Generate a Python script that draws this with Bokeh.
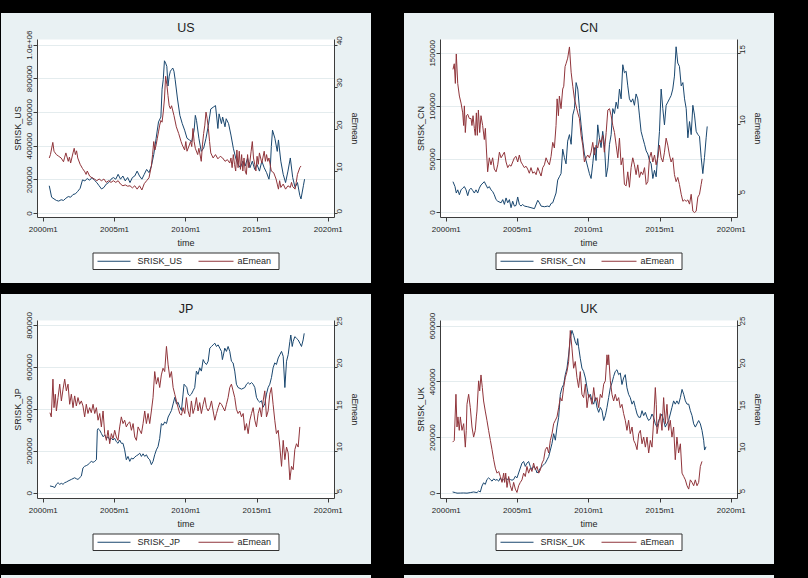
import math
from bokeh.plotting import figure
from bokeh.models import Range1d, LinearAxis, FixedTicker, Div, Spacer
from bokeh.layouts import row, column
from bokeh.core.properties import value
from bokeh.embed import file_html
from bokeh.resources import INLINE

# ---------------- data (month offset from 2000m1, value) ----------------
X_TICKS = [0, 60, 120, 180, 240]
X_TICK_LABELS = ["2000m1", "2005m1", "2010m1", "2015m1", "2020m1"]
X_TITLE = "time"
RIGHT_TITLE = "aEmean"

US_SRISK = [(5,165000),(7,97000),(9,87000),(11,78000),(13,74000),(15,82000),(17,78000),(19,91000),(21,101000),(23,97000),
            (25,113000),(27,117000),(29,132000),(31,150000),(33,200000),(35,194000),(37,208000),(39,198000),(41,214000),(43,198000),
            (45,184000),(47,165000),(49,146000),(51,155000),(53,175000),(55,184000),(57,204000),(59,214000),(61,204000),(63,233000),
            (65,204000),(67,223000),(69,194000),(71,214000),(73,184000),(75,214000),(77,223000),(79,252000),(81,223000),(83,204000),
            (85,233000),(87,262000),(89,243000),(91,282000),(93,350000),(95,447000),(97,544000),(99,573000),(100,738000),(101,796000),
            (102,907000),(103,893000),(104,874000),(105,757000),(106,816000),(107,845000),(108,855000),(109,864000),(110,845000),(111,796000),
            (113,680000),(115,583000),(117,534000),(119,495000),(121,447000),(123,437000),(125,427000),(127,495000),(128,583000),(129,553000),
            (131,447000),(133,369000),(135,388000),(137,447000),(139,524000),(141,621000),(143,631000),(145,641000),(147,505000),(148,592000),
            (150,534000),(151,573000),(153,515000),(154,563000),(156,534000),(158,466000),(160,388000),(162,330000),(164,291000),(166,272000),
            (168,311000),(170,282000),(172,330000),(174,272000),(176,311000),(178,262000),(180,291000),(182,252000),(184,311000),(186,272000),
            (188,243000),(190,204000),(191,252000),(192,398000),(193,495000),(195,447000),(197,369000),(198,437000),(200,311000),(202,233000),
            (204,184000),(206,252000),(208,330000),(210,214000),(212,155000),(214,184000),(216,107000),(217,87000),(219,165000),(220,204000)]

US_AE = [(5,13.2),(6,14.0),(8,16.9),(9,14.8),(11,14.0),(13,13.6),(15,13.2),(17,12.3),(18,13.4),(19,14.4),(21,12.4),(22,13.4),
         (23,12.0),(25,14.4),(26,15.5),(27,14.0),(28,14.9),(29,13.2),(31,11.7),(33,10.7),(35,9.9),(36,9.3),(37,10.1),(39,8.9),
         (41,8.5),(43,8.2),(45,7.8),(47,8.2),(49,7.8),(51,8.2),(53,7.4),(55,7.8),(57,7.4),(59,7.8),(61,7.4),(63,7.8),(65,7.0),
         (67,6.6),(69,6.8),(71,6.5),(73,6.6),(75,6.1),(77,6.6),(79,5.8),(81,6.6),(83,5.6),(85,7.1),(87,7.8),(89,8.5),(91,11.3),
         (92,14.0),(93,17.1),(94,15.1),(95,16.3),(96,17.9),(97,19.4),(98,21.0),(99,22.1),(100,21.7),(101,24.1),(102,27.2),(103,32.6),
         (104,30.7),(105,28.0),(106,25.6),(107,24.9),(108,25.6),(110,23.3),(112,20.6),(114,19.0),(116,17.1),(117,16.3),(119,15.1),
         (120,17.1),(121,14.8),(123,16.3),(124,17.1),(125,15.9),(126,20.2),(127,17.1),(128,15.5),(130,14.0),(131,15.5),(133,12.4),
         (134,16.3),(135,19.0),(136,21.0),(137,24.1),(138,22.5),(139,20.2),(140,17.1),(141,14.4),(143,13.2),(145,14.0),(147,13.0),
         (149,13.6),(151,13.2),(153,12.4),(155,12.8),(157,12.0),(158,13.2),(159,10.9),(160,14.0),(161,11.7),(162,10.1),(163,15.1),
         (164,10.9),(165,14.8),(166,10.5),(167,14.0),(168,10.1),(169,13.2),(170,10.1),(171,9.3),(172,14.0),(173,10.9),(174,12.4),
         (175,14.8),(176,17.1),(177,13.2),(178,11.7),(179,10.1),(180,13.6),(181,11.7),(182,14.4),(184,12.0),(186,14.8),(187,12.4),
         (188,14.0),(189,12.4),(190,13.2),(192,10.1),(194,9.7),(196,8.2),(197,7.0),(198,5.8),(199,7.8),(200,6.2),(202,7.0),(204,5.8),
         (206,6.6),(208,6.2),(209,7.4),(210,6.4),(212,5.8),(213,7.4),(214,9.3),(216,10.9),(217,11.3)]

CN_SRISK = [(5.6,29100),(7.3,24500),(8.4,18400),(9.6,21400),(11.0,16800),(12.4,21400),(13.8,23000),(15.2,24500),(16.6,21400),
            (18.0,15900),(19.4,21400),(20.8,23000),(22.2,20800),(23.6,18400),(25.0,21400),(26.4,18400),(27.8,23000),(29.2,26000),
            (32.0,29100),(33.4,26000),(34.8,23000),(36.2,24500),(37.6,21400),(39.0,19900),(40.4,16800),(41.9,12200),(43.3,10700),
            (46.1,9200),(47.5,12200),(48.9,7700),(50.3,13800),(51.7,9200),(53.1,12200),(54.5,4600),(55.9,10700),(57.3,6100),
            (58.7,6700),(60.1,14700),(61.5,7700),(62.9,6100),(64.3,7700),(65.7,6100),(68.5,5500),(71.3,4600),(74.2,3700),
            (77.0,11600),(78.4,9200),(79.8,6100),(82.6,5500),(85.4,6100),(86.8,5500),(88.2,8600),(89.6,9200),(91.0,13800),
            (92.4,18400),(93.8,30600),(95.2,33700),(96.6,36700),(98.0,59700),(99.4,52000),(100.8,45900),(102.2,67300),(103.7,73400),
            (105.1,64300),(106.5,91800),(107.9,97900),(109.3,122400),(110.7,116300),(112.1,97900),(113.5,82600),(114.9,67300),
            (116.3,55100),(117.7,49000),(119.1,42800),(120.5,36700),(121.9,32100),(123.3,45900),(124.7,61200),(126.1,49000),
            (127.5,82600),(128.9,70400),(130.3,61200),(131.7,76500),(133.1,64300),(134.6,33700),(136.0,42800),(137.4,64300),
            (138.8,73400),(140.2,97900),(141.6,93300),(143.0,104000),(144.4,97900),(145.8,116300),(147.2,107100),(148.6,139200),
            (150.0,131600),(151.4,133100),(152.8,119300),(154.2,107100),(155.6,104000),(157.0,107100),(158.4,101000),(159.8,111700),
            (161.2,107100),(162.6,91800),(164.0,76500),(165.4,70400),(166.9,64300),(168.3,58100),(169.7,55100),(171.1,49000),
            (172.5,45900),(173.9,32100),(175.3,39800),(176.7,33700),(178.1,55100),(179.5,76500),(180.9,116300),(182.3,97900),
            (183.7,82600),(185.1,101000),(186.5,104000),(187.9,107100),(189.3,110200),(190.7,116300),(192.1,128500),(193.5,156100),
            (194.9,140800),(196.3,137700),(197.8,119300),(199.2,122400),(200.6,107100),(202.0,97900),(203.4,70400),(204.8,85700),
            (206.2,73400),(207.6,101000),(209.0,91800),(210.4,76500),(211.8,73400),(213.2,71900),(214.6,52000),(216.0,36700),
            (217.4,52000),(218.8,70400),(219.7,81100)]

CN_AE = [(5.6,13.9),(6.7,14.3),(7.6,12.9),(8.4,15.0),(9.6,12.9),(11.0,12.0),(12.4,11.5),(13.8,10.8),(14.6,9.9),(15.2,11.3),
         (16.0,9.4),(16.9,10.6),(18.0,10.7),(19.4,10.4),(20.8,10.4),(21.6,9.9),(22.5,10.6),(23.6,9.7),(24.4,9.2),(25.3,10.8),
         (26.1,9.2),(27.0,11.0),(28.1,9.4),(29.2,10.6),(30.6,9.9),(32.0,8.9),(32.9,9.7),(33.7,8.3),(34.8,6.6),(36.2,7.6),
         (37.6,7.1),(39.0,7.6),(40.4,6.8),(41.9,6.6),(43.3,7.1),(44.7,8.0),(46.1,7.6),(47.5,7.8),(48.9,8.0),(50.3,7.3),
         (51.7,6.9),(53.1,7.1),(54.5,7.0),(55.9,7.3),(57.3,7.6),(58.7,7.7),(60.1,7.3),(61.5,7.8),(62.9,7.3),(64.3,7.1),
         (65.7,6.9),(67.1,7.0),(68.5,6.8),(69.9,6.5),(71.3,6.9),(72.8,6.5),(74.2,6.6),(75.6,6.4),(77.0,6.9),(78.4,6.6),
         (79.8,6.3),(81.2,6.9),(82.6,7.1),(84.0,7.6),(85.4,7.3),(86.8,7.1),(88.2,7.7),(89.6,8.7),(91.0,8.3),(92.4,9.9),
         (93.3,11.8),(94.4,10.6),(95.2,12.0),(96.6,11.1),(98.0,12.5),(98.9,12.7),(100.0,14.1),(100.8,14.3),(102.2,14.7),
         (103.7,15.5),(105.1,13.7),(106.5,12.7),(107.9,11.8),(109.3,11.3),(110.7,10.8),(112.1,10.4),(113.5,9.2),(114.9,8.5),
         (116.3,7.3),(117.7,7.6),(119.1,7.8),(120.5,7.6),(121.9,8.0),(123.3,8.7),(124.7,7.8),(126.1,8.5),(127.5,8.3),
         (128.9,8.9),(130.3,8.7),(131.7,9.2),(133.1,8.0),(134.6,9.4),(136.0,11.0),(137.4,11.1),(138.8,10.6),(140.2,9.9),
         (141.6,9.4),(143.0,8.5),(144.4,7.6),(145.8,9.0),(147.2,7.1),(148.6,7.6),(150.0,5.7),(151.4,5.6),(152.8,6.6),
         (154.2,5.5),(155.6,6.9),(157.0,7.6),(158.4,7.1),(159.8,6.4),(161.2,7.1),(162.6,6.2),(164.0,6.6),(165.4,6.4),
         (166.9,6.9),(168.3,5.7),(169.7,5.9),(171.1,7.6),(172.5,8.0),(173.9,7.3),(175.3,7.8),(176.7,7.1),(178.1,7.6),
         (179.5,8.5),(180.9,7.6),(182.3,7.3),(183.7,8.0),(185.1,9.0),(186.5,8.5),(187.9,7.8),(189.3,7.3),(190.7,7.6),
         (192.1,6.4),(193.5,5.9),(194.9,6.2),(196.3,5.7),(197.8,5.0),(199.2,4.5),(200.6,4.6),(202.0,4.5),(203.4,4.6),
         (204.8,4.3),(206.2,5.0),(207.6,3.8),(209.0,3.7),(210.4,3.8),(211.8,4.8),(213.2,5.0),(214.6,5.7),(215.4,6.1)]

JP_SRISK = [(5.6,34400),(8.1,31300),(9.6,26600),(11.0,42300),(12.4,50100),(13.8,42300),(15.2,47000),(16.6,42300),(18.0,50100),
            (19.4,53200),(20.8,57900),(23.6,65700),(26.4,73600),(27.8,68900),(29.2,65700),(32.0,81400),(33.4,120500),(34.8,128300),
            (36.2,131500),(37.6,136200),(39.0,144000),(40.4,151800),(41.9,147100),(43.3,151800),(44.7,159600),(45.5,300500),
            (46.1,308300),(47.5,300500),(48.9,284800),(50.3,269200),(51.7,277000),(53.1,261400),(54.5,269200),(55.9,253500),
            (57.3,261400),(58.7,253500),(60.1,261400),(61.5,245700),(62.9,237900),(64.3,253500),(65.7,237900),(67.1,237900),
            (68.5,206600),(69.9,159600),(71.3,175300),(72.8,151800),(74.2,167500),(75.6,162800),(77.0,172200),(78.4,178400),
            (79.8,183100),(81.2,190900),(82.6,175300),(84.0,187800),(85.4,175300),(86.8,183100),(88.2,167500),(89.6,159600),
            (91.0,136200),(92.4,151800),(93.8,183100),(95.2,206600),(96.6,222200),(98.0,261400),(99.4,331800),(100.8,324000),
            (102.2,339600),(103.7,331800),(105.1,363100),(106.5,378700),(107.9,394400),(109.3,425700),(110.7,457000),(112.1,425700),
            (113.5,433500),(114.9,410000),(116.3,394400),(117.7,472600),(118.5,519600),(119.7,511800),(120.8,503900),(121.9,472600),
            (123.3,464800),(124.7,472600),(126.1,488300),(127.5,503900),(128.9,582200),(130.3,566500),(131.7,597800),(133.1,582200),
            (134.6,637000),(136.0,621300),(137.4,613500),(138.8,629100),(140.2,691700),(141.6,699600),(143.0,707400),(144.4,715200),
            (145.8,699600),(147.2,707400),(148.6,691700),(150.0,676100),(150.8,637000),(152.0,668300),(152.8,691700),(154.2,676100),
            (155.6,699600),(157.0,676100),(158.4,629100),(159.8,621300),(161.2,582200),(162.6,519600),(164.0,503900),(166.9,496100),
            (169.7,503900),(171.1,519600),(172.5,527400),(173.9,519600),(175.3,527400),(176.7,519600),(178.1,503900),(179.5,457000),
            (180.9,441300),(182.3,433500),(183.7,441300),(185.1,410000),(186.5,425700),(187.9,472600),(189.3,503900),(190.7,519600),
            (192.1,550900),(193.5,597800),(194.9,621300),(196.3,613500),(197.8,644800),(199.2,660400),(200.6,676100),(202.0,652600),
            (203.4,503900),(204.8,629100),(206.2,660400),(207.6,723000),(208.4,754300),(209.6,699600),(210.4,723000),(211.8,746500),
            (213.2,738700),(214.6,730900),(216.0,715200),(217.4,699600),(218.8,730900),(219.7,762200)]

JP_AE = [(5.6,14.6),(6.7,14.1),(8.1,18.6),(9.0,15.2),(10.1,16.8),(11.0,14.8),(12.4,16.4),(13.8,18.0),(15.2,16.0),(16.6,17.4),
         (18.0,18.6),(19.4,17.2),(20.8,18.0),(22.2,15.6),(23.6,16.8),(25.0,15.2),(26.4,16.6),(27.8,15.4),(29.2,16.4),(30.6,15.6),
         (32.0,16.0),(33.4,15.4),(34.8,14.1),(36.2,15.6),(37.6,14.5),(39.0,15.2),(40.4,14.6),(41.9,15.6),(43.3,14.5),(44.7,15.2),
         (46.1,13.7),(47.5,14.5),(48.9,12.9),(50.3,14.8),(51.7,12.1),(53.1,11.3),(54.5,12.5),(55.9,10.9),(57.3,12.1),(58.7,11.5),
         (60.1,12.5),(61.5,11.7),(62.9,11.3),(64.3,12.9),(65.7,14.1),(67.1,13.3),(68.5,13.7),(69.9,12.9),(71.3,13.3),(72.8,13.5),
         (74.2,12.5),(75.6,13.3),(77.0,11.7),(78.4,11.3),(79.8,12.9),(81.2,12.5),(82.6,12.1),(84.0,13.3),(85.4,14.8),(86.8,13.3),
         (88.2,14.5),(89.6,13.3),(91.0,14.8),(92.4,16.4),(93.8,19.5),(95.2,18.0),(96.6,18.8),(98.0,17.6),(99.4,19.1),(100.8,19.9),
         (102.2,19.5),(103.7,22.5),(105.1,20.3),(106.5,18.8),(107.9,19.5),(109.3,17.6),(110.7,16.8),(112.1,16.0),(113.5,15.2),
         (114.9,14.5),(116.3,14.3),(117.7,15.2),(119.1,14.5),(120.5,16.4),(121.9,14.8),(123.3,14.1),(124.7,16.0),(126.1,14.5),
         (127.5,15.2),(128.9,16.4),(130.3,14.8),(131.7,15.8),(133.1,14.5),(134.6,15.6),(136.0,16.4),(137.4,15.2),(138.8,14.8),
         (140.2,15.2),(141.6,16.0),(143.0,14.8),(144.4,13.7),(145.8,14.5),(147.2,15.2),(148.6,15.8),(150.0,15.6),(151.4,15.2),
         (152.8,14.8),(154.2,15.6),(155.6,16.4),(157.0,17.6),(158.4,18.0),(159.8,17.2),(161.2,16.4),(162.6,15.0),(164.0,14.5),
         (165.4,14.8),(166.9,14.1),(168.3,14.5),(169.7,12.5),(171.1,13.3),(172.5,12.1),(173.9,13.7),(175.3,14.5),(176.7,15.2),
         (178.1,13.7),(179.5,12.9),(180.9,14.5),(182.3,15.2),(183.7,14.1),(185.1,16.0),(186.5,17.2),(187.9,14.1),(189.3,14.8),
         (190.7,16.8),(192.1,17.6),(193.5,15.6),(194.9,13.7),(196.3,12.1),(197.8,12.5),(199.2,10.5),(200.6,8.2),(202.0,11.3),
         (203.4,9.0),(204.8,10.5),(206.2,9.8),(207.6,6.6),(209.0,8.2),(210.4,7.8),(211.8,10.2),(213.2,10.9),(214.6,10.5),(216.0,12.9)]

UK_SRISK = [(5.3,4700),(7.6,2400),(9.0,500),(11.8,800),(14.6,1200),(17.4,500),(20.2,2400),(23.0,4700),(25.8,2400),(27.2,8200),
            (28.6,4700),(30.0,25900),(31.4,37600),(32.8,31800),(34.2,49400),(35.6,55300),(37.1,49400),(38.5,43500),(39.9,51700),
            (41.3,47000),(42.7,49400),(44.1,43500),(45.5,55300),(46.9,43500),(48.3,49400),(49.7,55300),(51.1,49400),(52.5,51700),
            (53.9,49400),(55.3,47000),(56.7,49400),(58.1,61200),(59.5,55300),(60.9,72900),(62.3,90600),(63.7,108200),(65.1,114100),
            (66.5,96400),(67.9,108200),(69.3,114100),(70.7,96400),(72.1,84700),(73.5,96400),(74.9,90600),(76.4,72900),(77.8,78800),
            (79.2,90600),(80.6,96400),(82.0,102300),(83.4,108200),(84.8,120000),(86.2,131700),(87.6,155200),(89.0,178800),(90.4,214000),
            (91.8,190500),(93.2,237600),(94.6,272800),(96.0,355200),(97.4,378700),(98.8,390400),(100.2,425700),(101.6,449200),
            (103.0,496300),(104.4,555100),(105.8,584500),(107.2,566800),(108.6,543300),(110.0,531600),(110.6,555100),(111.4,525700),
            (112.8,484500),(114.2,449200),(115.6,437500),(117.1,414000),(118.5,378700),(119.9,343400),(121.3,355200),(122.7,331600),
            (124.1,319900),(125.5,343400),(126.9,308100),(128.3,290500),(129.7,308100),(131.1,296400),(132.5,261100),(133.9,278700),
            (135.3,308100),(136.7,343400),(138.1,378700),(139.5,396300),(140.9,419800),(142.3,437500),(143.7,443400),(145.1,425700),
            (146.5,431600),(147.9,390400),(149.3,414000),(150.7,425700),(152.1,378700),(153.5,355200),(154.9,343400),(156.4,319900),
            (157.8,331600),(159.2,308100),(160.6,284600),(162.0,272800),(163.4,272800),(164.8,296400),(166.2,278700),(167.6,290500),
            (169.0,272800),(170.4,261100),(171.8,267000),(173.2,284600),(174.6,272800),(176.0,249300),(177.4,237600),(178.8,261100),
            (180.2,272800),(181.6,284600),(183.0,261100),(184.4,237600),(185.8,249300),(187.2,261100),(188.6,284600),(190.0,308100),
            (191.4,331600),(192.8,319900),(194.2,331600),(195.6,319900),(197.1,343400),(198.5,372800),(199.9,355200),(201.3,331600),
            (202.7,319900),(204.1,319900),(205.5,296400),(206.9,278700),(208.3,249300),(209.7,237600),(211.1,249300),(212.5,261100),
            (213.9,249300),(215.3,225800),(216.7,190500),(217.5,155200),(218.7,167000)]

UK_AE = [(5.3,11.1),(6.7,11.3),(8.1,16.8),(9.0,12.9),(9.8,14.1),(10.9,12.5),(11.8,14.1),(13.2,12.5),(14.6,13.3),(16.0,10.5),
         (16.8,12.5),(17.4,15.6),(18.8,16.8),(20.2,15.2),(21.6,12.9),(23.0,11.7),(24.4,12.5),(25.3,14.1),(25.8,14.8),(27.2,18.4),
         (28.1,17.2),(29.2,19.1),(30.3,17.6),(31.4,16.0),(32.8,14.8),(34.2,13.7),(35.6,12.5),(37.1,11.3),(38.5,10.2),(39.9,9.0),
         (41.3,8.0),(42.7,7.4),(44.1,7.6),(45.5,7.0),(46.9,6.3),(48.3,7.4),(49.1,6.3),(50.0,7.4),(51.1,5.7),(52.5,7.0),(53.9,5.9),
         (55.3,5.3),(56.7,6.3),(58.1,5.5),(59.5,5.1),(60.9,5.9),(62.3,6.3),(63.7,6.6),(65.1,7.4),(66.5,7.0),(67.9,8.2),(69.3,7.4),
         (70.7,8.0),(72.1,7.6),(73.5,8.6),(74.9,7.8),(76.4,8.2),(77.8,7.4),(79.2,7.8),(80.6,8.6),(82.0,9.0),(83.4,10.2),(84.8,10.5),
         (86.2,9.8),(87.6,11.3),(89.0,12.1),(90.4,13.3),(91.8,13.7),(93.2,14.1),(94.6,15.2),(96.0,16.4),(97.4,16.0),(98.8,17.6),
         (100.2,18.8),(101.6,19.5),(103.0,20.7),(104.4,24.4),(105.8,22.3),(107.2,19.9),(108.6,20.7),(110.0,18.8),(111.4,17.6),
         (112.8,19.5),(114.2,16.8),(115.6,16.4),(117.1,18.0),(118.5,15.2),(119.9,16.8),(121.3,16.4),(122.7,15.6),(124.1,17.6),
         (125.5,16.0),(126.9,16.4),(128.3,15.2),(129.7,16.8),(131.1,16.4),(132.5,18.0),(133.9,18.4),(135.3,21.5),(136.1,20.3),
         (136.7,21.5),(138.1,18.4),(139.5,16.8),(140.9,16.0),(142.3,16.8),(143.7,16.0),(145.1,16.4),(146.5,15.2),(147.9,15.6),
         (149.3,14.5),(150.7,13.7),(152.1,12.5),(153.5,13.7),(154.9,12.1),(156.4,12.9),(157.8,11.3),(159.2,10.9),(160.6,10.2),
         (162.0,12.1),(163.4,12.5),(164.8,10.9),(166.2,11.7),(167.6,10.5),(169.0,11.7),(170.4,9.8),(171.8,11.3),(173.2,10.5),
         (174.6,13.7),(176.0,17.6),(176.8,15.6),(177.4,12.1),(178.8,13.3),(180.2,14.5),(181.6,12.5),(183.0,16.4),(184.4,13.3),
         (185.8,15.6),(187.2,12.5),(188.6,13.7),(190.0,11.7),(191.4,12.9),(192.8,9.0),(194.2,11.7),(195.6,9.8),(197.1,10.9),
         (198.5,7.4),(199.9,7.0),(201.3,6.6),(202.7,5.9),(204.1,5.5),(205.5,6.6),(206.9,6.3),(208.3,5.9),(209.7,6.6),(211.1,5.9),
         (212.5,6.3),(213.9,8.2),(215.3,8.8)]

US_LEFT_TICKS = [0, 200000, 400000, 600000, 800000, 1000000]
US_LEFT_LABELS = ["0", "200000", "400000", "600000", "800000", "1.0e+06"]
US_RIGHT_TICKS = [0, 10, 20, 30, 40]
CN_LEFT_TICKS = [0, 50000, 100000, 150000]
CN_LEFT_LABELS = ["0", "50000", "100000", "150000"]
CN_RIGHT_TICKS = [5, 10, 15]
JP_LEFT_TICKS = [0, 200000, 400000, 600000, 800000]
JP_LEFT_LABELS = ["0", "200000", "400000", "600000", "800000"]
JP_RIGHT_TICKS = [5, 10, 15, 20, 25]
UK_LEFT_TICKS = [0, 200000, 400000, 600000]
UK_LEFT_LABELS = ["0", "200000", "400000", "600000"]
UK_RIGHT_TICKS = [5, 10, 15, 20, 25]

# ---------------- style / layout constants ----------------
FONT = "Liberation Sans"
PANEL_BG = "#e9f1f3"
GRID = "#e4ecee"
AXC = "#3c3c3c"
TXT = "#1e1e1e"
BLUE = "#1a476f"
RED = "#90353b"
LINE_W = 1.0
X_RANGE = (-4.9, 245.2)
PANEL_W = 370
MAIN_H = 237
LEG_H = 33
BORDER_L, BORDER_R = 36, 37
# legend strip drawn in panel-pixel coordinates (x from panel left, y from strip top)
LEG_BOX = (91.5, 277.5, 2.5, 19.0)      # left, right, top, bottom
LEG_KEY1 = (96, 129)
LEG_KEY2 = (197, 232)
LEG_TXT_X = (136, 236)


def style_axis(ax, tick_out, label_standoff, title_standoff, tick_size="8px", title_size="9px"):
    ax.axis_line_color = AXC
    ax.axis_line_width = 1
    ax.major_tick_line_color = AXC
    ax.major_tick_in = 0
    ax.major_tick_out = tick_out
    ax.minor_tick_line_color = None
    ax.major_label_text_font = FONT
    ax.major_label_text_font_size = tick_size
    ax.major_label_text_color = TXT
    ax.major_label_standoff = label_standoff
    ax.axis_label_text_font = FONT
    ax.axis_label_text_font_size = title_size
    ax.axis_label_text_font_style = "normal"
    ax.axis_label_text_color = TXT
    ax.axis_label_standoff = title_standoff


def make_panel(name, srisk, ae, lticks, llabels, lrange, rticks, rrange):
    p = figure(width=PANEL_W, height=MAIN_H, output_backend="svg", toolbar_location=None,
               x_range=Range1d(*X_RANGE), y_range=Range1d(*lrange),
               min_border_left=BORDER_L, min_border_right=BORDER_R, min_border_top=26, min_border_bottom=30,
               background_fill_color="white", border_fill_color=PANEL_BG,
               outline_line_color=None, title=name)
    p.title.align = "center"
    p.title.text_font = FONT
    p.title.text_font_size = "12.5px"
    p.title.text_font_style = "normal"
    p.title.text_color = TXT

    xa = p.xaxis[0]
    xa.ticker = FixedTicker(ticks=X_TICKS)
    xa.major_label_overrides = dict(zip(X_TICKS, X_TICK_LABELS))
    xa.axis_label = X_TITLE
    style_axis(xa, 4, 3, 1)

    ya = p.yaxis[0]
    ya.ticker = FixedTicker(ticks=lticks)
    ya.major_label_overrides = dict(zip(lticks, llabels))
    ya.major_label_orientation = "vertical"
    ya.axis_label = "SRISK_" + name
    style_axis(ya, 4, 1, 2)

    p.xgrid.visible = False
    p.ygrid.ticker = FixedTicker(ticks=lticks)
    p.ygrid.grid_line_color = GRID
    p.ygrid.grid_line_width = 1

    p.extra_y_ranges = {"ae": Range1d(*rrange)}
    ra = LinearAxis(y_range_name="ae", ticker=FixedTicker(ticks=rticks), axis_label=RIGHT_TITLE)
    style_axis(ra, 3, 2, 2, tick_size="8px", title_size="8.5px")
    ra.major_label_orientation = math.pi / 2
    p.add_layout(ra, "right")

    st, sv = zip(*srisk)
    at, av = zip(*ae)
    p.line(list(st), list(sv), line_color=BLUE, line_width=LINE_W)
    p.line(list(at), list(av), line_color=RED, line_width=LINE_W, y_range_name="ae")

    # legend strip (separate small canvas under the plot; its frame is aligned with the plot frame)
    lf = figure(width=PANEL_W, height=LEG_H, output_backend="svg", toolbar_location=None,
                x_range=Range1d(BORDER_L, PANEL_W - BORDER_R), y_range=Range1d(LEG_H, 0),
                x_axis_location=None, y_axis_location=None,
                min_border_left=BORDER_L, min_border_right=BORDER_R, min_border_top=0, min_border_bottom=0,
                background_fill_alpha=0, border_fill_alpha=0, outline_line_color=None)
    lf.grid.visible = False
    l, r, t, b = LEG_BOX
    lf.quad(left=[l], right=[r], top=[t], bottom=[b], fill_color="white", line_color="#333333", line_width=1)
    ym = (t + b) / 2
    lf.line(list(LEG_KEY1), [ym, ym], line_color=BLUE, line_width=LINE_W)
    lf.line(list(LEG_KEY2), [ym, ym], line_color=RED, line_width=LINE_W)
    lf.text(x=list(LEG_TXT_X), y=[ym, ym], text=["SRISK_" + name, "aEmean"],
            text_font=value(FONT), text_font_size=value("9px"), text_color=TXT,
            text_align="left", text_baseline="middle")
    return column(p, lf, spacing=0, styles={"background-color": PANEL_BG})


c_us = make_panel("US", US_SRISK, US_AE, US_LEFT_TICKS, US_LEFT_LABELS, (-23350, 1033300), US_RIGHT_TICKS, (-0.934, 41.33))
c_cn = make_panel("CN", CN_SRISK, CN_AE, CN_LEFT_TICKS, CN_LEFT_LABELS, (-4630, 162960), CN_RIGHT_TICKS, (3.346, 16.03))
c_jp = make_panel("JP", JP_SRISK, JP_AE, JP_LEFT_TICKS, JP_LEFT_LABELS, (-25300, 823450), JP_RIGHT_TICKS, (4.367, 25.59))
c_uk = make_panel("UK", UK_SRISK, UK_AE, UK_LEFT_TICKS, UK_LEFT_LABELS, (-18700, 620100), UK_RIGHT_TICKS, (4.38, 25.59))

strip1 = Div(text="", width=370, height=3, margin=0, styles={"background-color": PANEL_BG})
strip2 = Div(text="", width=370, height=3, margin=0, styles={"background-color": PANEL_BG})

layout = column(
    Spacer(width=10, height=13),
    row(Spacer(width=1, height=270), c_us, Spacer(width=33, height=270), c_cn),
    Spacer(width=10, height=11),
    row(Spacer(width=1, height=270), c_jp, Spacer(width=33, height=270), c_uk),
    Spacer(width=10, height=11),
    row(Spacer(width=1, height=3), strip1, Spacer(width=33, height=3), strip2),
)

html = file_html(layout, INLINE, title="SRISK and aEmean")
html = html.replace("</head>", "<style>html,body{margin:0;padding:0;background:#000000;overflow:hidden;}</style></head>", 1)
open("out.html", "w").write(html)
